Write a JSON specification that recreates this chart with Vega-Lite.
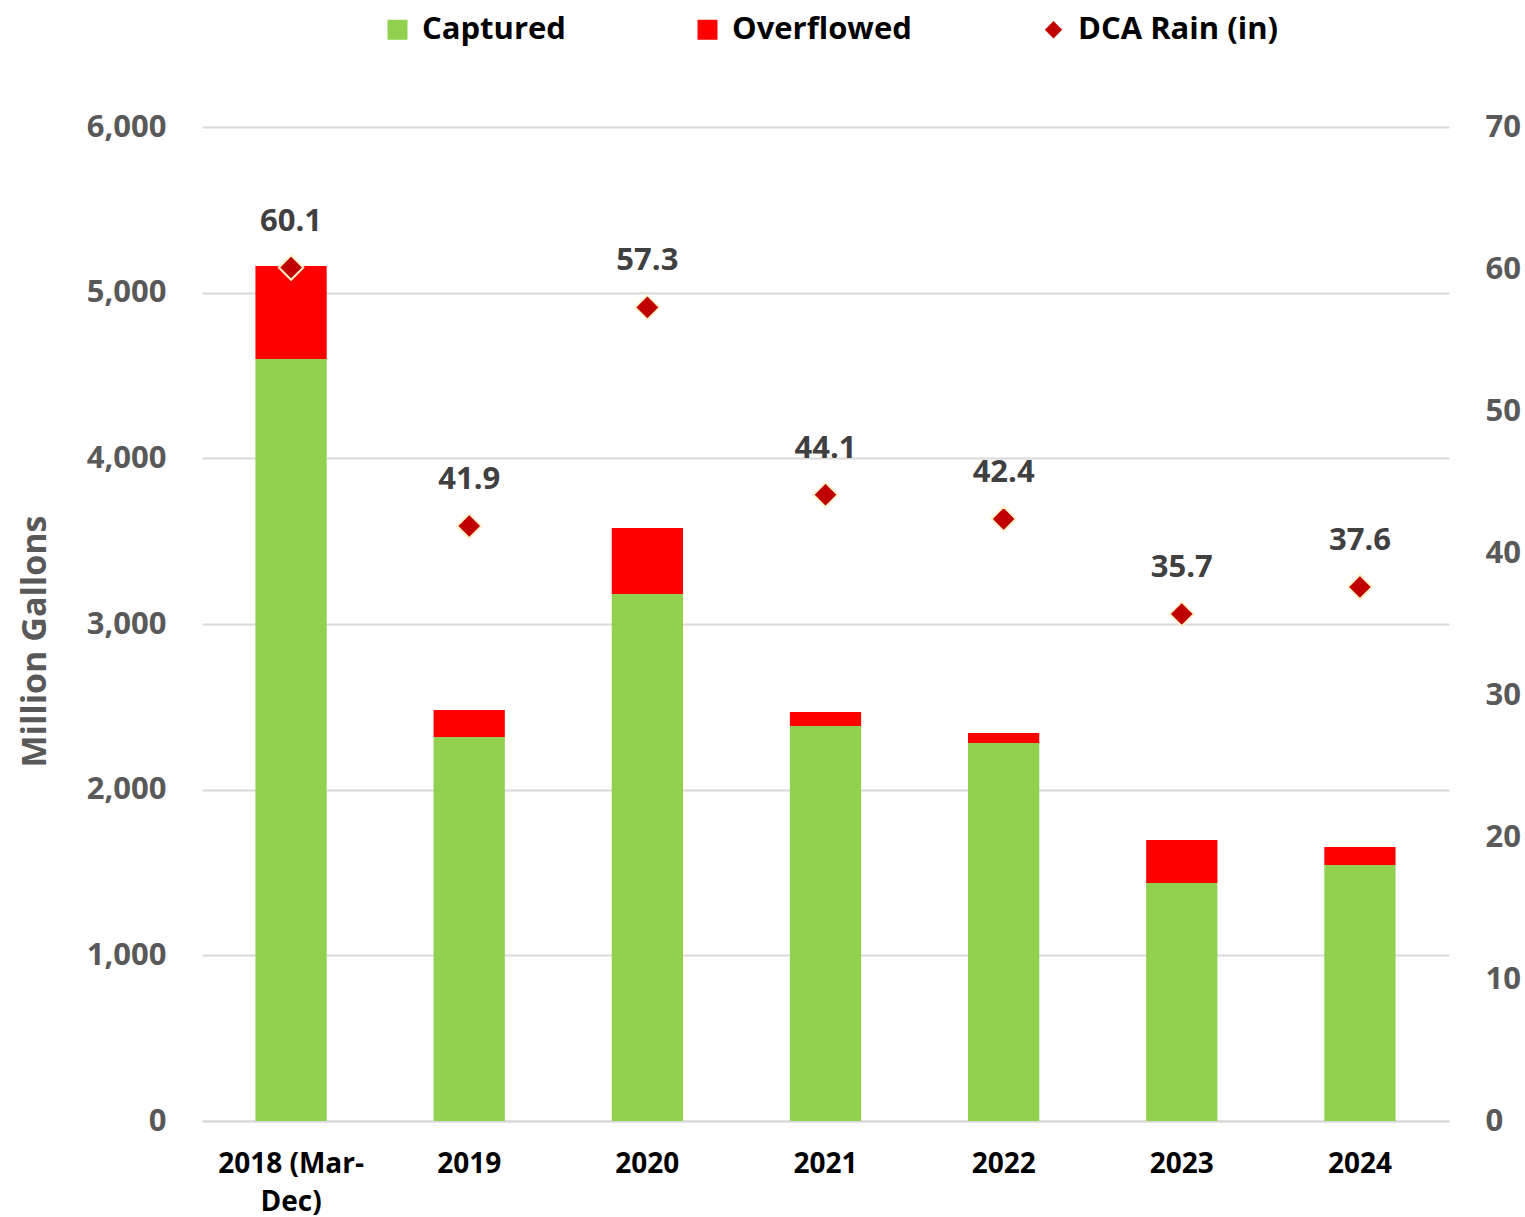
{
  "$schema": "https://vega.github.io/schema/vega-lite/v6.json",
  "width": 1247,
  "height": 994,
  "autosize": {"type": "none"},
  "padding": {"left": 202, "top": 127, "right": 76, "bottom": 96},
  "background": "white",
  "config": {
    "font": "Open Sans",
    "view": {"stroke": null}
  },
  "datasets": {
    "bars": [
      {"year": "2018 (Mar-Dec)", "series": "Captured", "value": 4600},
      {"year": "2018 (Mar-Dec)", "series": "Overflowed", "value": 561},
      {"year": "2019", "series": "Captured", "value": 2318},
      {"year": "2019", "series": "Overflowed", "value": 163},
      {"year": "2020", "series": "Captured", "value": 3181},
      {"year": "2020", "series": "Overflowed", "value": 398},
      {"year": "2021", "series": "Captured", "value": 2384},
      {"year": "2021", "series": "Overflowed", "value": 85},
      {"year": "2022", "series": "Captured", "value": 2282},
      {"year": "2022", "series": "Overflowed", "value": 60},
      {"year": "2023", "series": "Captured", "value": 1437},
      {"year": "2023", "series": "Overflowed", "value": 259},
      {"year": "2024", "series": "Captured", "value": 1545},
      {"year": "2024", "series": "Overflowed", "value": 109}
    ],
    "rain": [
      {"year": "2018 (Mar-Dec)", "series": "DCA Rain (in)", "rain": 60.1},
      {"year": "2019", "series": "DCA Rain (in)", "rain": 41.9},
      {"year": "2020", "series": "DCA Rain (in)", "rain": 57.3},
      {"year": "2021", "series": "DCA Rain (in)", "rain": 44.1},
      {"year": "2022", "series": "DCA Rain (in)", "rain": 42.4},
      {"year": "2023", "series": "DCA Rain (in)", "rain": 35.7},
      {"year": "2024", "series": "DCA Rain (in)", "rain": 37.6}
    ]
  },
  "encoding": {
    "x": {
      "field": "year",
      "type": "nominal",
      "sort": null,
      "scale": {"paddingInner": 0.6, "paddingOuter": 0.3},
      "axis": {
        "title": null,
        "labelAngle": 0,
        "labelFontSize": 28,
        "labelFontWeight": "bold",
        "labelColor": "#000000",
        "labelPadding": 29,
        "labelLineHeight": 38,
        "labelBaseline": "top",
        "ticks": false,
        "domainColor": "#D9D9D9",
        "domainWidth": 2,
        "labelExpr": "datum.label === '2018 (Mar-Dec)' ? ['2018 (Mar-', 'Dec)'] : datum.label"
      }
    }
  },
  "layer": [
    {
      "data": {"name": "bars"},
      "mark": {"type": "bar"},
      "encoding": {
        "y": {
          "field": "value",
          "type": "quantitative",
          "stack": "zero",
          "scale": {"domain": [0, 6000], "nice": false},
          "axis": {
            "title": "Million Gallons",
            "titleFontSize": 34,
            "titleFontWeight": "bold",
            "titleColor": "#595959",
            "titleX": -167,
            "titleY": 514,
            "titleAngle": -90,
            "titleAlign": "center",
            "titleBaseline": "middle",
            "values": [0, 1000, 2000, 3000, 4000, 5000, 6000],
            "format": ",d",
            "labelFontSize": 31,
            "labelFontWeight": "bold",
            "labelColor": "#595959",
            "labelPadding": 36,
            "ticks": false,
            "domain": false,
            "gridColor": "#D9D9D9",
            "gridWidth": 2
          }
        },
        "color": {
          "field": "series",
          "type": "nominal",
          "scale": {
            "domain": ["Captured", "Overflowed", "DCA Rain (in)"],
            "range": ["#92D050", "#FF0000", "#C00000"]
          },
          "legend": {
            "title": null,
            "orient": "none",
            "direction": "horizontal",
            "legendX": 180,
            "legendY": -113,
            "labelFontSize": 31,
            "labelFontWeight": "bold",
            "labelColor": "#000000",
            "labelOffset": 9,
            "symbolSize": 400,
            "symbolStrokeWidth": 0,
            "columnPadding": 126,
            "labelLimit": 400,
            "encode": {
              "symbols": {
                "update": {
                  "shape": {"signal": "datum.value === 'DCA Rain (in)' ? 'diamond' : 'square'"},
                  "size": {"signal": "datum.value === 'DCA Rain (in)' ? 300 : 400"}
                }
              }
            }
          }
        },
        "order": {"field": "series", "sort": "ascending"}
      }
    },
    {
      "data": {"name": "rain"},
      "encoding": {
        "y": {
          "field": "rain",
          "type": "quantitative",
          "scale": {"domain": [0, 70], "nice": false},
          "axis": {
            "orient": "right",
            "title": null,
            "values": [0, 10, 20, 30, 40, 50, 60, 70],
            "labelFontSize": 31,
            "labelFontWeight": "bold",
            "labelColor": "#595959",
            "labelPadding": 36,
            "ticks": false,
            "domain": false,
            "grid": false
          }
        }
      },
      "layer": [
        {
          "mark": {"type": "point", "shape": "diamond", "filled": true, "size": 600, "stroke": "#FFF2CC", "strokeWidth": 2, "opacity": 1},
          "encoding": {
            "color": {"field": "series", "type": "nominal"}
          }
        },
        {
          "mark": {"type": "text", "dy": -46, "fontSize": 31, "fontWeight": "bold", "color": "#404040", "baseline": "middle"},
          "encoding": {
            "text": {"field": "rain", "type": "quantitative", "format": ".1f"}
          }
        }
      ]
    }
  ],
  "resolve": {"scale": {"y": "independent"}}
}
